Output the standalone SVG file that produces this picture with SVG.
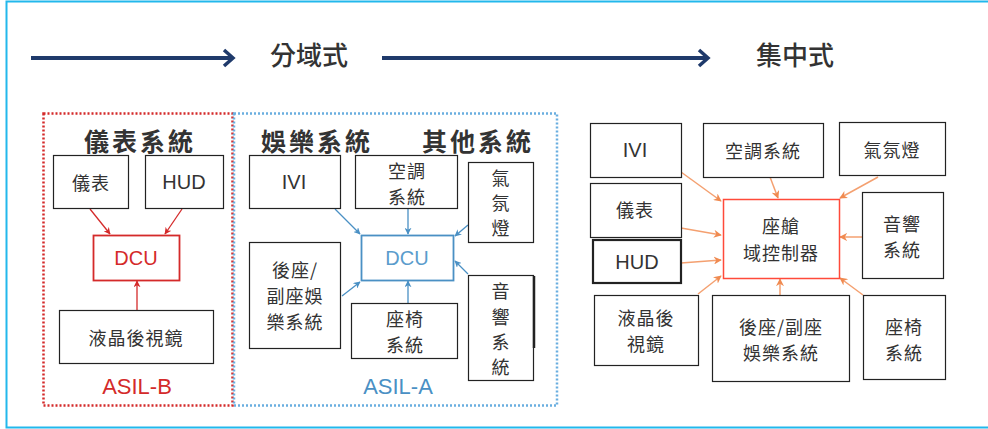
<svg xmlns="http://www.w3.org/2000/svg" width="988" height="429" viewBox="0 0 988 429">
<defs>
<style>
text{font-family:"Noto Sans CJK TC","Noto Sans CJK SC",sans-serif;fill:#333;text-anchor:middle;dominant-baseline:central}
.box{fill:#fff;stroke:#222;stroke-width:1.2}
.t{font-size:18px;letter-spacing:1px}
.title{font-size:25px;font-weight:700;letter-spacing:3px}
.top{font-size:26px;font-weight:500}
.red{stroke:#d42a2a;stroke-width:1.3;fill:none}
.blue{stroke:#4a90c4;stroke-width:1.3;fill:none}
.org{stroke:#f4a070;stroke-width:1.5;fill:none}
.asil{font-family:"Liberation Sans",Arial,sans-serif;font-size:22px}
.lat{font-family:"Liberation Sans",Arial,sans-serif;font-size:20px}
</style>
<marker id="mr" viewBox="0 0 10 10" refX="9" refY="5" markerWidth="7" markerHeight="7" orient="auto" markerUnits="userSpaceOnUse"><path d="M0,0 L10,5 L0,10 L3,5 z" fill="#d42a2a"/></marker>
<marker id="mb" viewBox="0 0 10 10" refX="9" refY="5" markerWidth="7" markerHeight="7" orient="auto" markerUnits="userSpaceOnUse"><path d="M0,0 L10,5 L0,10 L3,5 z" fill="#4a90c4"/></marker>
<marker id="mo" viewBox="0 0 10 10" refX="9" refY="5" markerWidth="8" markerHeight="8" orient="auto" markerUnits="userSpaceOnUse"><path d="M0,0 L10,5 L0,10 L3,5 z" fill="#f08a50"/></marker>
</defs>
<rect width="988" height="429" fill="#fff"/>
<!-- outer frame -->
<path d="M988,1.5 H6.5 V427.5 H988" fill="none" stroke="#22b8ec" stroke-width="2"/>

<!-- top arrows -->
<g id="top-arrows">
<line x1="31" y1="58" x2="231" y2="58" stroke="#1f3a6b" stroke-width="4"/>
<path d="M224,50 L233,58 L224,66" fill="none" stroke="#1f3a6b" stroke-width="3.5"/>
<line x1="382" y1="58" x2="706" y2="58" stroke="#1f3a6b" stroke-width="4"/>
<path d="M699,50 L708,58 L699,66" fill="none" stroke="#1f3a6b" stroke-width="3.5"/>
</g>
<text class="top" x="309" y="53">分域式</text>
<text class="top" x="795" y="53">集中式</text>

<!-- zone frames -->
<g id="asil-b">
<rect x="43.5" y="113.5" width="189" height="292" fill="none" stroke="#d42a2a" stroke-width="2.5" stroke-dasharray="2 2"/>
<text class="title" x="140" y="140">儀表系統</text>
<text class="asil" x="137" y="386" style="fill:#d42a2a">ASIL-B</text>
</g>
<g id="asil-a">
<rect x="234" y="113.5" width="323" height="292" fill="none" stroke="#6aaee0" stroke-width="2.5" stroke-dasharray="2 2"/>
<text class="title" x="317" y="140">娛樂系統</text>
<text class="title" x="478" y="140">其他系統</text>
<text class="asil" x="398" y="386" style="fill:#4a90c4">ASIL-A</text>
</g>

<!-- connectors -->
<g id="connectors">
<line class="red" x1="90" y1="209" x2="110" y2="234" marker-end="url(#mr)"/>
<line class="red" x1="182" y1="209" x2="165" y2="234" marker-end="url(#mr)"/>
<line class="red" x1="137" y1="310" x2="137" y2="281" marker-end="url(#mr)"/>

<line class="blue" x1="335" y1="209" x2="360" y2="234" marker-end="url(#mb)"/>
<line class="blue" x1="408" y1="209" x2="408" y2="234" marker-end="url(#mb)"/>
<line class="blue" x1="468" y1="225" x2="455" y2="236" marker-end="url(#mb)"/>
<line class="blue" x1="468" y1="274" x2="455" y2="261" marker-end="url(#mb)"/>
<line class="blue" x1="408" y1="303" x2="408" y2="281" marker-end="url(#mb)"/>
<line class="blue" x1="342" y1="296" x2="360" y2="282" marker-end="url(#mb)"/>

<line class="org" x1="681" y1="172" x2="721" y2="201" marker-end="url(#mo)"/>
<line class="org" x1="770" y1="177" x2="778" y2="198" marker-end="url(#mo)"/>
<line class="org" x1="878" y1="177" x2="840" y2="198" marker-end="url(#mo)"/>
<line class="org" x1="681" y1="228" x2="721" y2="235" marker-end="url(#mo)"/>
<line class="org" x1="681" y1="263" x2="721" y2="260" marker-end="url(#mo)"/>
<line class="org" x1="698" y1="294" x2="721" y2="276" marker-end="url(#mo)"/>
<line class="org" x1="780" y1="295" x2="780" y2="279" marker-end="url(#mo)"/>
<line class="org" x1="862" y1="237" x2="840" y2="237" marker-end="url(#mo)"/>
<line class="org" x1="863" y1="295" x2="840" y2="278" marker-end="url(#mo)"/>
</g>

<!-- left: ASIL-B nodes -->
<g id="b-yibiao"><rect class="box" x="53.5" y="155.5" width="75" height="53"/><text class="t" x="91" y="182">儀表</text></g>
<g id="b-hud"><rect class="box" x="145.5" y="155.5" width="78" height="53"/><text class="lat" x="184" y="182">HUD</text></g>
<g id="b-dcu"><rect x="93.5" y="235.5" width="86" height="45" fill="#fff" stroke="#d42a2a" stroke-width="1.8"/><text x="136" y="258" style="font-family:'Liberation Sans',Arial,sans-serif;font-size:20px;fill:#d42a2a">DCU</text></g>
<g id="b-mirror"><rect class="box" x="59.5" y="310.5" width="154" height="53"/><text class="t" x="136" y="337">液晶後視鏡</text></g>

<!-- middle: ASIL-A nodes -->
<g id="a-ivi"><rect class="box" x="249.5" y="155.5" width="91" height="53"/><text class="lat" x="294" y="182">IVI</text></g>
<g id="a-ac"><rect class="box" x="355.5" y="155.5" width="102" height="53"/><text class="t" x="407" y="170">空調</text><text class="t" x="407" y="196">系統</text></g>
<g id="a-amb"><rect class="box" x="468.5" y="162.5" width="65" height="80"/><text class="t" x="501" y="177">氣</text><text class="t" x="501" y="202">氛</text><text class="t" x="501" y="227">燈</text></g>
<g id="a-dcu"><rect x="361.5" y="235.5" width="92" height="45" fill="#fff" stroke="#4a90c4" stroke-width="1.8"/><text x="407" y="258" style="font-family:'Liberation Sans',Arial,sans-serif;font-size:20px;fill:#5a9ccc">DCU</text></g>
<g id="a-rear"><rect class="box" x="249.5" y="242.5" width="91" height="106"/><text class="t" x="295" y="269">後座/</text><text class="t" x="295" y="295">副座娛</text><text class="t" x="295" y="321">樂系統</text></g>
<g id="a-seat"><rect class="box" x="351.5" y="303.5" width="106" height="55"/><text class="t" x="405" y="318">座椅</text><text class="t" x="405" y="344">系統</text></g>
<g id="a-audio"><rect class="box" x="468.5" y="275.5" width="65" height="105"/><line x1="534" y1="276" x2="534" y2="348" stroke="#222" stroke-width="2.5"/><text class="t" x="501" y="290">音</text><text class="t" x="501" y="316">響</text><text class="t" x="501" y="341">系</text><text class="t" x="501" y="366">統</text></g>

<!-- right: centralized -->
<g id="c-ivi"><rect class="box" x="590.5" y="123.5" width="91" height="54"/><text class="lat" x="635" y="150">IVI</text></g>
<g id="c-ac"><rect class="box" x="703.5" y="123.5" width="120" height="54"/><text class="t" x="763" y="150">空調系統</text></g>
<g id="c-amb"><rect class="box" x="839.5" y="122.5" width="106" height="53"/><text class="t" x="892" y="149">氣氛燈</text></g>
<g id="c-yibiao"><rect class="box" x="590.5" y="183.5" width="91" height="54"/><text class="t" x="635" y="209">儀表</text></g>
<g id="c-hud"><rect x="593" y="240" width="88" height="43" fill="#fff" stroke="#222" stroke-width="2.2"/><text class="lat" x="637" y="262">HUD</text></g>
<g id="c-mirror"><rect class="box" x="594.5" y="295.5" width="104" height="70"/><text class="t" x="646" y="317">液晶後</text><text class="t" x="646" y="343">視鏡</text></g>
<g id="c-ctrl"><rect x="723.5" y="199.5" width="116" height="79" fill="#fff" stroke="#ff4a3a" stroke-width="1.5"/><text class="t" x="781" y="225">座艙</text><text class="t" x="781" y="252">域控制器</text></g>
<g id="c-audio"><rect class="box" x="862.5" y="192.5" width="81" height="86"/><text class="t" x="902" y="223">音響</text><text class="t" x="902" y="249">系統</text></g>
<g id="c-rear"><rect class="box" x="712.5" y="295.5" width="137" height="86"/><text class="t" x="781" y="326">後座/副座</text><text class="t" x="781" y="352">娛樂系統</text></g>
<g id="c-seat"><rect class="box" x="863.5" y="295.5" width="82" height="84"/><text class="t" x="904" y="326">座椅</text><text class="t" x="904" y="352">系統</text></g>
</svg>
